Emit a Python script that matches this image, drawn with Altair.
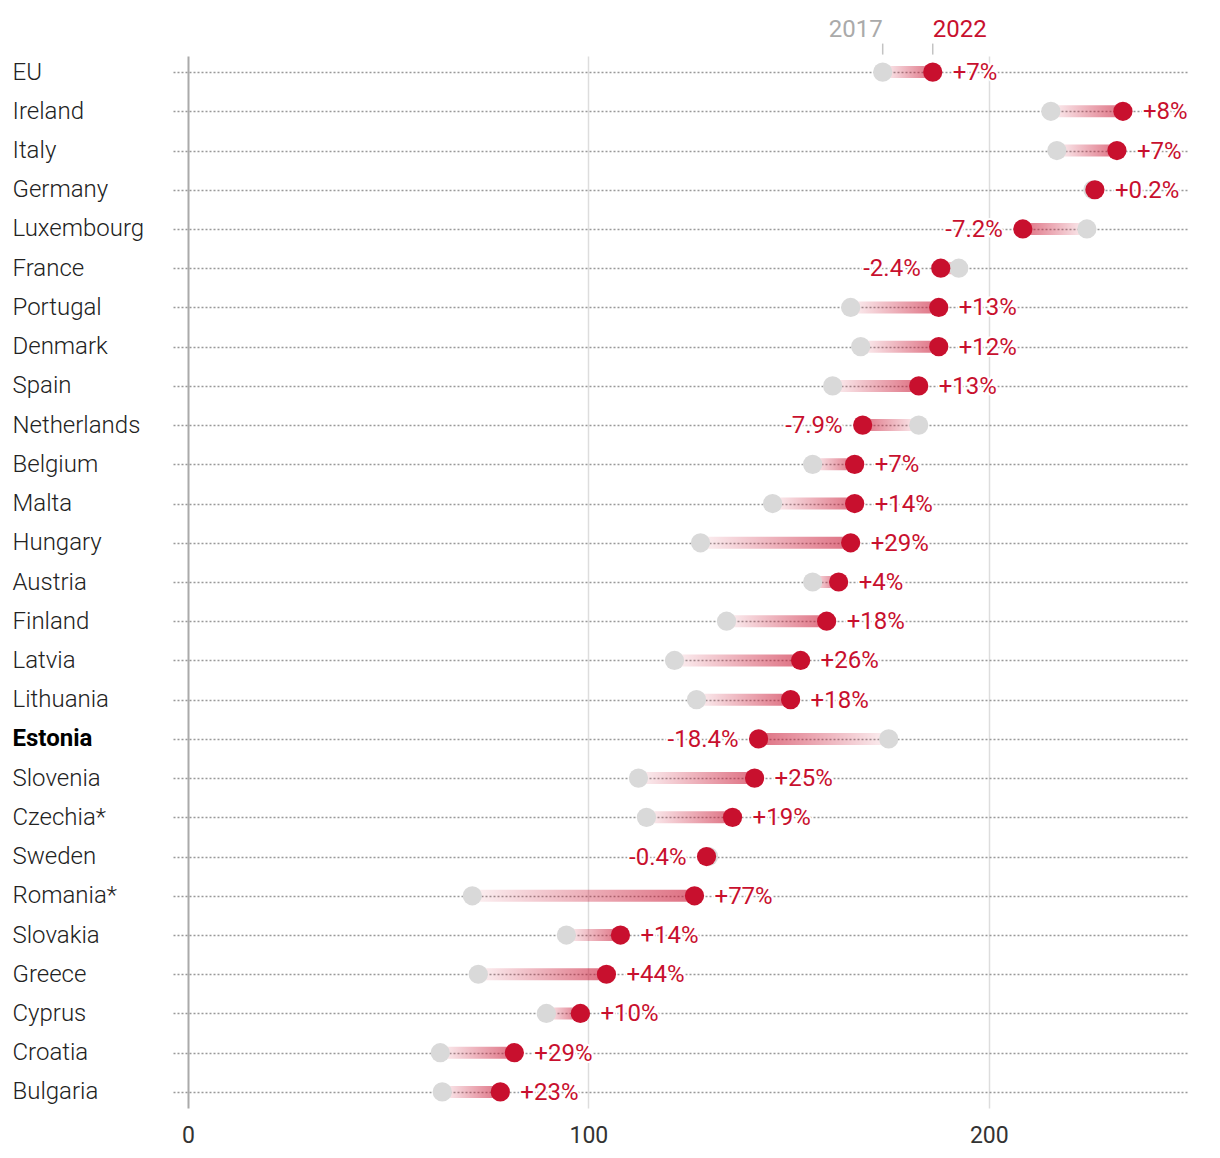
import altair as alt
import pandas as pd

countries = ["EU", "Ireland", "Italy", "Germany", "Luxembourg", "France", "Portugal",
             "Denmark", "Spain", "Netherlands", "Belgium", "Malta", "Hungary", "Austria",
             "Finland", "Latvia", "Lithuania", "Estonia", "Slovenia", "Czechia*", "Sweden",
             "Romania*", "Slovakia", "Greece", "Cyprus", "Croatia", "Bulgaria"]
v2017 = [173.5, 215.5, 217.0, 226.0, 224.5, 192.5, 165.5, 168.0, 161.0, 182.5, 156.0, 146.0,
         128.0, 156.0, 134.5, 121.5, 127.0, 175.0, 112.5, 114.5, 130.0, 71.0, 94.5, 72.5,
         89.5, 63.0, 63.5]
v2022 = [186.0, 233.5, 232.0, 226.5, 208.5, 188.0, 187.5, 187.5, 182.5, 168.5, 166.5, 166.5,
         165.5, 162.5, 159.5, 153.0, 150.5, 142.5, 141.5, 136.0, 129.5, 126.5, 108.0, 104.5,
         98.0, 81.5, 78.0]
changes = ["+7%", "+8%", "+7%", "+0.2%", "-7.2%", "-2.4%", "+13%", "+12%", "+13%", "-7.9%",
           "+7%", "+14%", "+29%", "+4%", "+18%", "+26%", "+18%", "-18.4%", "+25%", "+19%",
           "-0.4%", "+77%", "+14%", "+44%", "+10%", "+29%", "+23%"]
tick_values = [0, 100, 200]

df = pd.DataFrame({"country": countries, "v2017": v2017, "v2022": v2022, "change": changes})
legend_df = pd.DataFrame({"country": ["EU", "EU"], "label": ["2017", "2022"],
                          "x": [v2017[0], v2022[0]]})

RED = "#c8102e"
GREY_DOT = "#d9d9d9"
FONT = "Roboto"

xscale = alt.Scale(domain=[-3.75, 250], nice=False, zero=False)
yscale = alt.Scale(type="point", domain=countries, padding=0.41)

x_axis = alt.Axis(values=tick_values, title=None, domain=False, ticks=False,
                  labelFontSize=23, labelColor="#333", labelFont=FONT, labelPadding=16,
                  grid=True,
                  gridColor={"condition": {"test": "datum.value == 0", "value": "#aaaaaa"}, "value": "#dddddd"},
                  gridWidth={"condition": {"test": "datum.value == 0", "value": 2}, "value": 1.5})
y_axis = alt.Axis(title=None, domain=False, ticks=False, tickSize=0, labelAlign="left",
                  labelPadding=161, labelFontSize=24, labelFont=FONT, labelBaseline="middle",
                  labelColor={"condition": {"test": "datum.value == 'Estonia'", "value": "#000"}, "value": "#222"},
                  labelFontWeight={"condition": {"test": "datum.value == 'Estonia'", "value": "bold"}, "value": 300},
                  grid=True, gridColor="#999999", gridDash=[2, 2], gridWidth=1.5)

base = alt.Chart(df)

inc_grad = alt.Gradient(gradient="linear", x1=0, x2=1, y1=0, y2=0,
                        stops=[alt.GradientStop(color="rgba(200,16,46,0.06)", offset=0),
                               alt.GradientStop(color="rgba(200,16,46,0.6)", offset=1)])
dec_grad = alt.Gradient(gradient="linear", x1=0, x2=1, y1=0, y2=0,
                        stops=[alt.GradientStop(color="rgba(200,16,46,0.6)", offset=0),
                               alt.GradientStop(color="rgba(200,16,46,0.06)", offset=1)])

bars_inc = base.transform_filter("datum.v2022 >= datum.v2017").mark_bar(
    color=inc_grad, size=12).encode(
    x=alt.X("v2017:Q", scale=xscale, axis=x_axis),
    x2="v2022:Q",
    y=alt.Y("country:N", scale=yscale, axis=y_axis, sort=countries))
bars_dec = base.transform_filter("datum.v2022 < datum.v2017").mark_bar(
    color=dec_grad, size=12).encode(
    x=alt.X("v2022:Q", scale=xscale),
    x2="v2017:Q",
    y=alt.Y("country:N", scale=yscale, sort=countries))

dots17 = base.mark_circle(size=370, color=GREY_DOT, opacity=1).encode(
    x=alt.X("v2017:Q", scale=xscale), y=alt.Y("country:N", scale=yscale, sort=countries))
dots22 = base.mark_circle(size=370, color=RED, opacity=1).encode(
    x=alt.X("v2022:Q", scale=xscale), y=alt.Y("country:N", scale=yscale, sort=countries))

def labels(filter_expr, align, dx):
    b = base.transform_filter(filter_expr)
    enc = dict(x=alt.X("v2022:Q", scale=xscale), y=alt.Y("country:N", scale=yscale, sort=countries),
               text="change:N")
    halo = b.mark_text(align=align, dx=dx, dy=1, baseline="middle", fontSize=24, font=FONT,
                       stroke="white", strokeWidth=4, color="white").encode(**enc)
    txt = b.mark_text(align=align, dx=dx, dy=1, baseline="middle", fontSize=24, font=FONT,
                      color=RED).encode(**enc)
    return halo + txt

lab_inc = labels("datum.v2022 >= datum.v2017", "left", 20)
lab_dec = labels("datum.v2022 < datum.v2017", "right", -20)

lbase = alt.Chart(legend_df)
leg_ticks = lbase.mark_tick(orient="vertical", size=11, thickness=1.5, color="#aaaaaa", yOffset=-23).encode(
    x=alt.X("x:Q", scale=xscale), y=alt.Y("country:N", scale=yscale, sort=countries))
leg_2017 = lbase.transform_filter("datum.label == '2017'").mark_text(
    align="right", baseline="alphabetic", dy=-35, fontSize=24, font=FONT, color="#aaaaaa").encode(
    x=alt.X("x:Q", scale=xscale), y=alt.Y("country:N", scale=yscale, sort=countries), text="label:N")
leg_2022 = lbase.transform_filter("datum.label == '2022'").mark_text(
    align="left", baseline="alphabetic", dy=-35, fontSize=24, font=FONT, color=RED).encode(
    x=alt.X("x:Q", scale=xscale), y=alt.Y("country:N", scale=yscale, sort=countries), text="label:N")

chart = alt.layer(bars_inc, bars_dec, dots17, dots22, lab_inc, lab_dec,
                  leg_ticks, leg_2017, leg_2022).properties(
    width=1016, height=1052,
    autosize=alt.AutoSizeParams(type="none"),
    padding={"left": 165, "top": 48, "right": 20, "bottom": 40},
).configure(background="white", view=alt.ViewConfig(stroke="transparent", strokeWidth=0))

chart.save("out.html", embed_options={"renderer": "svg", "actions": False})
